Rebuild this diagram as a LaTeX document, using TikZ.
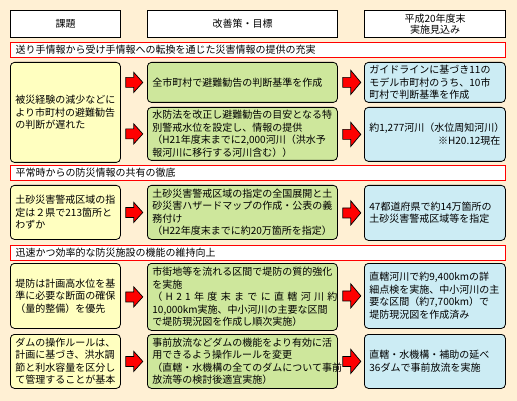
\documentclass[tikz,border=0pt]{standalone}
\usepackage{fontspec}
\setmainfont{Noto Sans CJK JP}
\usetikzlibrary{calc}
\definecolor{bgc}{RGB}{255,240,212}
\definecolor{yelc}{RGB}{255,255,192}
\definecolor{grnc}{RGB}{206,231,156}
\definecolor{bluc}{RGB}{204,236,244}
\tikzset{
  hdr/.style={draw=black, line width=1.1pt, fill=white, anchor=north west, align=center, minimum height=27pt, inner sep=0pt},
  bar/.style={draw=red, line width=1.1pt, fill=white, anchor=north west, minimum width=495pt, minimum height=15pt, text width=485pt, inner xsep=5pt, inner ysep=0pt, align=left},
  box/.style={draw=black, line width=0.8pt, rounded corners=4pt, anchor=north west, inner xsep=5pt, inner ysep=1pt, align=left},
  ybox/.style={box, fill=yelc, text width=100pt},
  gbox/.style={box, fill=grnc, text width=180pt},
  bbox/.style={box, fill=bluc, text width=131pt},
  arrl/.pic={\draw[fill=red, draw=black, line width=0.7pt] (0,-5) -- (8,-5) -- (8,-10) -- (17,0) -- (8,10) -- (8,5) -- (0,5) -- cycle;},
  arrr/.pic={\draw[fill=red, draw=black, line width=0.7pt] (0,-5) -- (8,-5) -- (8,-12) -- (18,0) -- (8,12) -- (8,5) -- (0,5) -- cycle;}
}
\begin{document}
\begin{tikzpicture}[x=1pt,y=-1pt, font=\fontsize{10}{12.5}\selectfont]
\fill[bgc] (0,0) rectangle (517,401);
\useasboundingbox (0,0) rectangle (517,401);
% headers
\node[hdr, minimum width=110pt] (h1) at (10,10) {課題};
\node[hdr, minimum width=190pt] (h2) at (147,10) {改善策・目標};
\node[hdr, minimum width=141pt, font=\fontsize{10}{11}\selectfont] (h3) at (364,10) {平成20年度末\\実施見込み};
% section 1
\node[bar] (s1) at (10,42) {送り手情報から受け手情報への転換を通じた災害情報の提供の充実};
\node[ybox, minimum height=100pt] (l1) at (10,62) {被災経験の減少などに\\より市町村の避難勧告\\の判断が遅れた};
\node[gbox, minimum height=40pt] (m1) at (147,62) {全市町村で避難勧告の判断基準を作成};
\node[gbox, minimum height=53pt] (m2) at (147,107) {水防法を改正し避難勧告の目安となる特\\別警戒水位を設定し、情報の提供\\（H21年度末までに2,000河川（洪水予\\報河川に移行する河川含む））};
\node[bbox, minimum height=40pt] (r1) at (364,62) {ガイドラインに基づき11の\\モデル市町村のうち、10市\\町村で判断基準を作成};
\node[bbox, minimum height=54pt] (r2) at (364,107) {約1,277河川（水位周知河川）\\\makebox[131pt][r]{※H20.12現在}};
% section 2
\node[bar] (s2) at (10,165) {平常時からの防災情報の共有の徹底};
\node[ybox, minimum height=54pt] (l3) at (10,185) {土砂災害警戒区域の指\\定は２県で213箇所と\\わずか};
\node[gbox, minimum height=54pt] (m3) at (147,185) {土砂災害警戒区域の指定の全国展開と土\\砂災害ハザードマップの作成・公表の義\\務付け\\（H22年度末までに約20万箇所を指定）};
\node[bbox, minimum height=55pt] (r3) at (364,185) {47都道府県で約14万箇所の\\土砂災害警戒区域等を指定};
% section 3
\node[bar] (s3) at (10,245) {迅速かつ効率的な防災施設の機能の維持向上};
\node[ybox, minimum height=65pt] (l4) at (10,263) {堤防は計画高水位を基\\準に必要な断面の確保\\（量的整備）を優先};
\node[gbox, minimum height=67pt] (m4) at (147,263) {市街地等を流れる区間で堤防の質的強化\\を実施\\\makebox[180pt][s]{（ H 2 1 年 度 末 ま で に 直 轄 河 川 約}\\10,000km実施、中小河川の主要な区間\\で堤防現況図を作成し順次実施）};
\node[bbox, minimum height=65pt] (r4) at (364,263) {直轄河川で約9,400kmの詳\\細点検を実施、中小河川の主\\要な区間（約7,700km）で\\堤防現況図を作成済み};
\node[ybox, minimum height=54pt] (l5) at (10,334) {ダムの操作ルールは、\\計画に基づき、洪水調\\節と利水容量を区分し\\て管理することが基本};
\node[gbox, minimum height=54pt] (m5) at (147,334) {事前放流などダムの機能をより有効に活\\用できるよう操作ルールを変更\\（直轄・水機構の全てのダムについて事前\\放流等の検討後適宜実施）};
\node[bbox, minimum height=54pt] (r5) at (364,334) {直轄・水機構・補助の延べ\\36ダムで事前放流を実施};
% arrows
\foreach \m in {m1,m2,m3,m4,m5}{
  \pic at ([xshift=5pt]l1.east |- \m.west) {arrl};
}
\foreach \m/\r in {m1/r1,m2/r2,m3/r3,m4/r4,m5/r5}{
  \pic at ([xshift=5pt]\m.east |- \r.west) {arrr};
}
\end{tikzpicture}
\end{document}
